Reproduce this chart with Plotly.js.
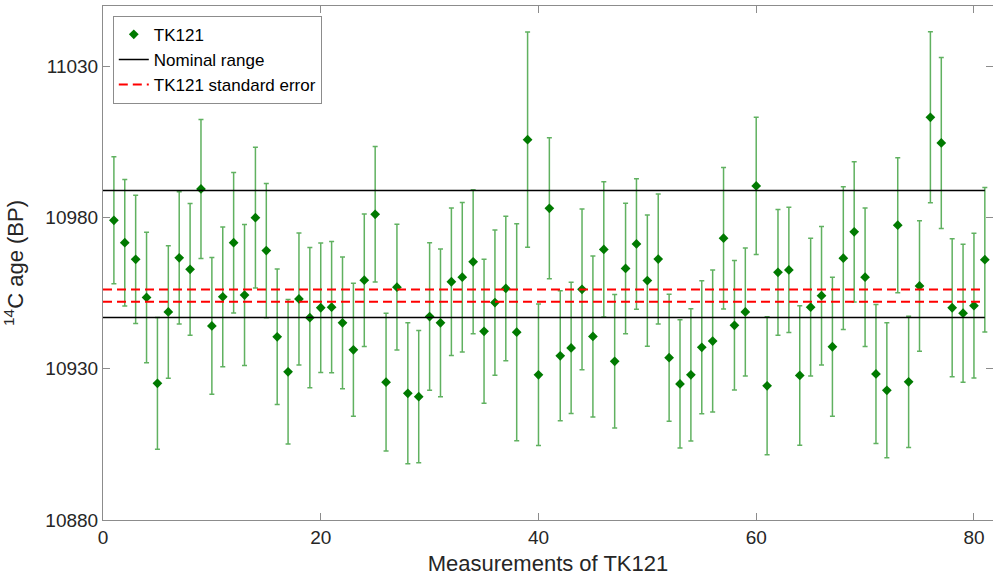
<!DOCTYPE html>
<html>
<head>
<meta charset="utf-8">
<script src="https://cdn.plot.ly/plotly-3.0.1.min.js"></script>
<style>
html,body{margin:0;padding:0;background:#fff;}
#chart{width:993px;height:583px;}
</style>
</head>
<body>
<div id="chart"></div>
<script>
// Measurement index
const measurementIndex = Array.from({length: 81}, (_, i) => i + 1);
// 14C ages (BP)
const ages = [
  10979.1, 10971.7, 10966.2, 10953.6, 10925.2, 10948.8, 10966.7, 10962.9, 10989.5, 10944.2,
  10953.8, 10971.7, 10954.4, 10980.0, 10969.1, 10940.6, 10929.0, 10953.1, 10946.9, 10950.2,
  10950.4, 10945.2, 10936.3, 10959.3, 10981.1, 10925.6, 10957.0, 10921.9, 10920.8, 10947.3,
  10945.2, 10958.8, 10960.3, 10965.4, 10942.4, 10951.9, 10956.6, 10942.1, 11005.8, 10928.0,
  10983.1, 10934.3, 10936.9, 10956.3, 10940.7, 10969.5, 10932.5, 10963.2, 10971.3, 10959.2,
  10966.3, 10933.7, 10925.0, 10928.0, 10937.1, 10939.2, 10973.2, 10944.4, 10948.8, 10990.5,
  10924.4, 10961.9, 10962.7, 10927.8, 10950.4, 10954.2, 10937.3, 10966.6, 10975.3, 10960.3,
  10928.3, 10922.9, 10977.5, 10925.7, 10957.4, 11013.2, 11004.7, 10950.2, 10948.4, 10950.9,
  10966.1
];
// One-sigma errors (years)
const errors = [
  21.0, 20.9, 21.2, 21.6, 21.8, 21.9, 21.9, 21.8, 23.0, 22.6,
  23.1, 23.2, 23.3, 23.3, 22.2, 22.4, 23.9, 21.8, 23.2, 21.4,
  21.7, 21.8, 22.0, 21.9, 22.4, 22.8, 20.8, 23.3, 21.9, 24.4,
  24.4, 24.4, 24.7, 23.8, 23.8, 24.0, 23.9, 35.9, 35.6, 23.4,
  23.3, 21.5, 21.7, 26.6, 26.6, 22.4, 22.1, 21.6, 21.6, 21.7,
  21.5, 21.0, 21.2, 21.9, 22.0, 23.5, 23.4, 21.4, 21.2, 22.7,
  22.8, 20.8, 20.7, 23.1, 22.8, 22.9, 23.0, 23.6, 23.2, 22.9,
  23.0, 22.3, 22.3, 21.7, 21.6, 28.3, 28.3, 22.8, 22.8, 23.9,
  23.9
];
// Nominal range and standard error band
const nominalRange = [10947, 10989];
const standardErrorBand = [10952.2, 10956.2];
const lineExtent = [0, 81];
const xTicks = [0, 20, 40, 60, 80];
const yTicks = [10880, 10930, 10980, 11030];

const traces = [
  {
    x: measurementIndex, y: ages, name: 'TK121', type: 'scatter', mode: 'markers',
    marker: {symbol: 'diamond', size: 7.5, color: '#007a00'},
    error_y: {type: 'data', array: errors, visible: true, color: 'rgba(10,135,10,0.65)', thickness: 1.5, width: 2.5}
  },
  {
    x: [lineExtent[0], lineExtent[1], null, lineExtent[0], lineExtent[1]],
    y: [nominalRange[1], nominalRange[1], null, nominalRange[0], nominalRange[0]],
    name: 'Nominal range', type: 'scatter', mode: 'lines', connectgaps: false,
    line: {color: '#000000', width: 1.5}
  },
  {
    x: [lineExtent[0], lineExtent[1], null, lineExtent[0], lineExtent[1]],
    y: [standardErrorBand[1], standardErrorBand[1], null, standardErrorBand[0], standardErrorBand[0]],
    name: 'TK121 standard error', type: 'scatter', mode: 'lines', connectgaps: false,
    line: {color: '#ff0000', width: 2, dash: '9px,5px'}
  }
];

const axisFont = {family: 'Liberation Sans, Arial, sans-serif', size: 19, color: '#262626'};
const layout = {
  width: 993, height: 583,
  margin: {l: 103, r: 0, t: 6, b: 63},
  paper_bgcolor: '#ffffff', plot_bgcolor: '#ffffff',
  showlegend: true,
  legend: {
    x: 0.011, y: 0.981, xanchor: 'left', yanchor: 'top',
    bgcolor: '#ffffff', bordercolor: '#8c8c8c', borderwidth: 1,
    font: {family: 'Liberation Sans, Arial, sans-serif', size: 17, color: '#000'},
    tracegroupgap: 0, itemwidth: 30
  },
  xaxis: {
    range: [0, 81.75], tickvals: xTicks, ticktext: xTicks.map(String),
    showgrid: false, zeroline: false, showline: true, mirror: 'ticks',
    linecolor: '#8c8c8c', linewidth: 1, ticks: 'inside', ticklen: 7, tickcolor: '#8c8c8c',
    tickfont: axisFont,
    title: {text: 'Measurements of TK121', font: {family: 'Liberation Sans, Arial, sans-serif', size: 22, color: '#262626'}, standoff: 8}
  },
  yaxis: {
    range: [10880, 11050], tickvals: yTicks, ticktext: yTicks.map(String),
    showgrid: false, zeroline: false, showline: true, mirror: 'ticks',
    linecolor: '#8c8c8c', linewidth: 1, ticks: 'inside', ticklen: 7, tickcolor: '#8c8c8c',
    tickfont: axisFont,
    title: {text: '<sup>14</sup>C age (BP)', font: {family: 'Liberation Sans, Arial, sans-serif', size: 22, color: '#262626'}, standoff: 15}
  }
};

Plotly.newPlot('chart', traces, layout, {displayModeBar: false, staticPlot: true});
</script>
</body>
</html>
